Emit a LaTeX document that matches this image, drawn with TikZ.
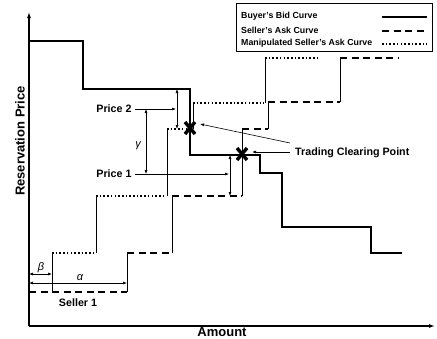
\documentclass[tikz,border=0pt]{standalone}
\usepackage{fontspec}
\setmainfont{Liberation Sans}
\usetikzlibrary{arrows.meta,calc}
\begin{document}
\begin{tikzpicture}[x=1pt,y=-1pt,
  axis/.style={line width=1.1pt,-{Latex[length=6pt,width=4pt]}},
  bid/.style={line width=1.8pt},
  ask/.style={line width=1.8pt,dash pattern=on 7pt off 4.5pt},
  manip/.style={line width=1.6pt,dash pattern=on 1.6pt off 2.1pt},
  riser/.style={line width=0.9pt},
  thinl/.style={line width=0.6pt},
  tip/.style={thinl,-{Latex[length=4pt,width=3pt]}},
  dtip/.style={thinl,{Latex[length=4pt,width=3pt]}-{Latex[length=4pt,width=3pt]}},
  lbl/.style={font=\bfseries\fontsize{10.7}{12}\selectfont,inner sep=0pt},
  glbl/.style={font=\itshape\fontsize{11}{12}\selectfont,inner sep=0pt},
  leg/.style={font=\bfseries\fontsize{8.8}{10}\selectfont,inner sep=0pt,anchor=west},
  axl/.style={font=\bfseries\fontsize{13}{14}\selectfont,inner sep=0pt},
  cross/.style={line width=3.4pt}]
\useasboundingbox (0,0) rectangle (437,338);
% axes
\coordinate (O) at (29,326);
\coordinate (Ytop) at (29,12);
\coordinate (Xend) at (435,326);
\draw[axis] (O) -- (Ytop);
\draw[axis] (O) -- (Xend);
\node[axl,rotate=90] (ylab) at (20,141) {Reservation Price};
\node[axl] (xlab) at (222,332) {Amount};
% buyer's bid curve
\draw[bid] (29,41) -- (83,41) -- (83,89) -- (190,89) -- (190,155) -- (260,155) -- (260,173)
  -- (282,173) -- (282,227) -- (371,227) -- (371,253) -- (402,253);
% seller's ask curve
\draw[ask] (29,292) -- (127,292);
\draw[riser] (127,292) -- (127,253);
\draw[ask] (127,253) -- (172,253);
\draw[riser] (172,253) -- (172,196);
\draw[ask] (172,196) -- (242,196);
\draw[thinl] (242,196) -- (242,129);
\draw[ask] (242,129) -- (268,129);
\draw[riser] (268,129) -- (268,102);
\draw[ask] (268,102) -- (340,102);
\draw[riser] (340,102) -- (340,58);
\draw[ask] (340,58) -- (398,58);
% manipulated seller's ask curve
\draw[riser] (52,292) -- (52,253);
\draw[manip] (52,253) -- (96,253);
\draw[riser] (96,253) -- (96,196);
\draw[manip] (96,196) -- (166,196);
\draw[thinl] (167,196) -- (167,129);
\draw[manip] (167,129) -- (188,129);
\draw[thinl] (193,129) -- (193,103);
\draw[manip] (193,103) -- (264,103);
\draw[riser] (265,103) -- (265,58);
\draw[manip] (265,58) -- (320,58);
% clearing points
\coordinate (X1) at (190,128);
\coordinate (X2) at (242,154);
\draw[cross] ($(X1)+(-5,-6)$) -- ($(X1)+(5,6)$) ($(X1)+(5,-6)$) -- ($(X1)+(-5,6)$);
\draw[cross] ($(X2)+(-5,-6)$) -- ($(X2)+(5,6)$) ($(X2)+(5,-6)$) -- ($(X2)+(-5,6)$);
\node[lbl,anchor=west] (tcp) at (295,153) {Trading Clearing Point};
\coordinate (t1) at (290,143);
\coordinate (t2) at (290,152);
\coordinate (a1) at (200,124);
\coordinate (a2) at (252,152);
\draw[tip] (t1) -- (a1);
\draw[tip] (t2) -- (a2);
% prices
\node[lbl] (p2) at (114,109) {Price 2};
\node[lbl] (p1) at (114,174) {Price 1};
\coordinate (p2e) at (176,109);
\coordinate (p1e) at (229,174);
\draw[tip] ($(p2.east)+(3,0)$) -- (p2e);
\draw[tip] ($(p1.east)+(3,0)$) -- (p1e);
\coordinate (g1) at (146,109);
\coordinate (g2) at (146,174);
\draw[dtip] (g1) -- (g2);
\node[glbl] (gam) at (138,146) {γ};
\coordinate (d1) at (177,89);
\coordinate (d2) at (177,129);
\draw[dtip] (d1) -- (d2);
\coordinate (e1) at (230,155);
\coordinate (e2) at (230,196);
\draw[dtip] (e1) -- (e2);
% alpha beta
\coordinate (b0) at (29,274);
\coordinate (b1) at (52,274);
\draw[dtip] (b0) -- (b1);
\node[glbl] (bet) at (41,268) {β};
\coordinate (c0) at (29,283);
\coordinate (c1) at (127,283);
\draw[dtip] (c0) -- (c1);
\node[glbl] (alp) at (80,278) {α};
\node[lbl] (s1) at (78,303) {Seller 1};
% legend
\draw[line width=0.9pt] (236,3) rectangle (432,51);
\node[leg] (l1) at (241,16) {Buyer's Bid Curve};
\node[leg] (l2) at (241,30) {Seller's Ask Curve};
\node[leg] (l3) at (241,43) {Manipulated Seller's Ask Curve};
\draw[bid] (382,17) -- (427,17);
\draw[ask] (382,31) -- (427,31);
\draw[manip] (382,44) -- (427,44);
\end{tikzpicture}
\end{document}
